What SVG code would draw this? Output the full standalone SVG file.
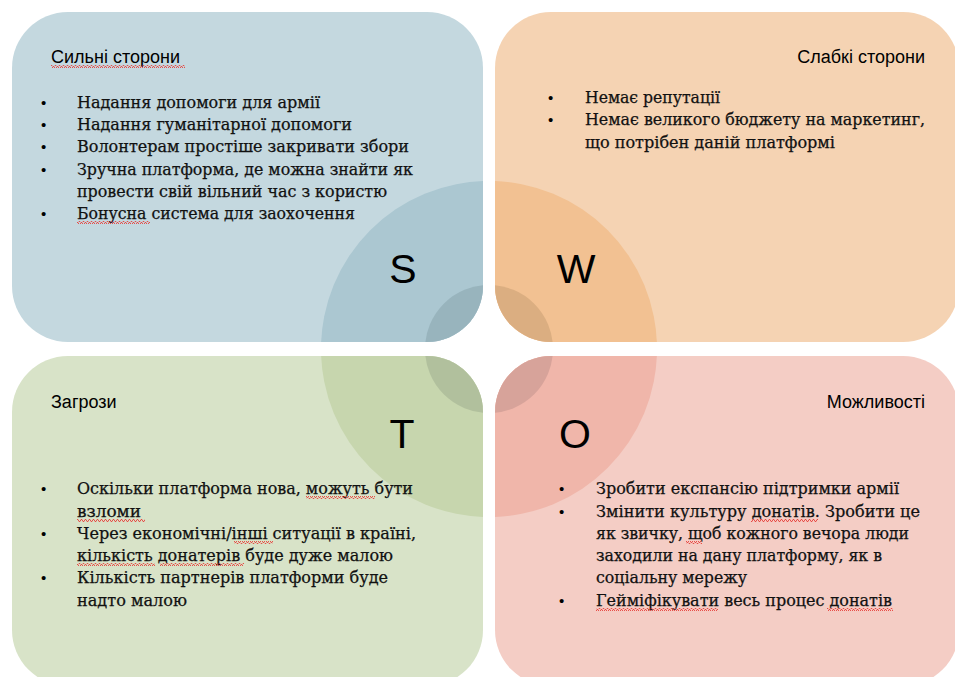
<svg xmlns="http://www.w3.org/2000/svg" width="955" height="677" viewBox="0 0 955 677">
<style>
.h{font-family:"Liberation Sans",Arial,sans-serif;font-size:18px;fill:#000}
.b{font-family:"DejaVu Serif Condensed","DejaVu Serif","Liberation Serif",serif;font-size:17px;fill:#111;stroke:#111;stroke-width:0.25}
.dot{font-family:"Liberation Sans",Arial,sans-serif;font-size:15px;fill:#000}
.big{font-family:"Liberation Sans",Arial,sans-serif;font-size:41px;fill:#000;text-anchor:middle}
.sq{fill:url(#wave)}
</style>
<defs>
<pattern id="wave" width="4" height="3" patternUnits="userSpaceOnUse">
<polyline points="0,2.5 1,0.5 2,0.5 3,2.5 4,2.5" fill="none" stroke="#e8413c" stroke-width="0.9"/>
</pattern>
<clipPath id="cS"><rect x="12" y="12" width="471" height="330" rx="56"/></clipPath>
<clipPath id="cW"><rect x="495" y="12" width="464" height="330" rx="56"/></clipPath>
<clipPath id="cT"><rect x="12" y="356" width="471" height="330" rx="56"/></clipPath>
<clipPath id="cO"><rect x="495" y="356" width="464" height="330" rx="56"/></clipPath>
</defs>
<rect width="955" height="677" fill="#fff"/>

<g id="strengths">
<rect x="12" y="12" width="471" height="330" rx="56" fill="#c4d8df"/>
<g clip-path="url(#cS)">
<circle cx="489" cy="349" r="168" fill="#abc7d1"/>
<circle cx="489" cy="349" r="64" fill="#98b4bd"/>
</g>
<text class="h" x="51" y="63">Сильні сторони</text>
<rect class="sq" x="51" y="65" width="134" height="3"/>
<text class="dot" x="41" y="108">•</text><text class="b" x="77" y="108" textLength="243" lengthAdjust="spacingAndGlyphs">Надання допомоги для армії</text>
<text class="dot" x="41" y="130">•</text><text class="b" x="77" y="130" textLength="275" lengthAdjust="spacingAndGlyphs">Надання гуманітарної допомоги</text>
<text class="dot" x="41" y="152">•</text><text class="b" x="77" y="152" textLength="332" lengthAdjust="spacingAndGlyphs">Волонтерам простіше закривати збори</text>
<text class="dot" x="41" y="175">•</text><text class="b" x="77" y="175" textLength="336" lengthAdjust="spacingAndGlyphs">Зручна платформа, де можна знайти як</text>
<text class="b" x="77" y="197" textLength="310" lengthAdjust="spacingAndGlyphs">провести свій вільний час з користю</text>
<text class="dot" x="41" y="219">•</text><text class="b" x="77" y="219" textLength="278" lengthAdjust="spacingAndGlyphs">Бонусна система для заохочення</text>
<rect class="sq" x="77" y="221" width="73" height="3"/>
<text class="big" x="403" y="283">S</text>
</g>

<g id="weaknesses">
<rect x="495" y="12" width="464" height="330" rx="56" fill="#f5d3b3"/>
<g clip-path="url(#cW)">
<circle cx="489" cy="349" r="168" fill="#f2c192"/>
<circle cx="489" cy="349" r="64" fill="#dbae81"/>
</g>
<text class="h" x="925" y="63" text-anchor="end">Слабкі сторони</text>
<text class="dot" x="548" y="103">•</text><text class="b" x="585" y="103" textLength="135" lengthAdjust="spacingAndGlyphs">Немає репутації</text>
<text class="dot" x="548" y="125">•</text><text class="b" x="585" y="125" textLength="340" lengthAdjust="spacingAndGlyphs">Немає великого бюджету на маркетинг,</text>
<text class="b" x="585" y="148" textLength="250" lengthAdjust="spacingAndGlyphs">що потрібен даній платформі</text>
<text class="big" x="576" y="283">W</text>
</g>

<g id="threats">
<rect x="12" y="356" width="471" height="330" rx="56" fill="#d8e3c8"/>
<g clip-path="url(#cT)">
<circle cx="489" cy="349" r="168" fill="#c7d6ae"/>
<circle cx="489" cy="349" r="64" fill="#b1c09d"/>
</g>
<text class="h" x="51" y="408">Загрози</text>
<text class="dot" x="41" y="494">•</text><text class="b" x="77" y="494" textLength="336" lengthAdjust="spacingAndGlyphs">Оскільки платформа нова, можуть бути</text>
<rect class="sq" x="306" y="496" width="69" height="3"/>
<text class="b" x="77" y="517" textLength="64" lengthAdjust="spacingAndGlyphs">взломи</text>
<rect class="sq" x="77" y="519" width="68" height="3"/>
<text class="dot" x="41" y="539">•</text><text class="b" x="77" y="539" textLength="339" lengthAdjust="spacingAndGlyphs">Через економічні/інші ситуації в країні,</text>
<rect class="sq" x="234" y="541" width="39" height="3"/>
<text class="b" x="77" y="561" textLength="316" lengthAdjust="spacingAndGlyphs">кількість донатерів буде дуже малою</text>
<rect class="sq" x="77" y="563" width="78" height="3"/>
<rect class="sq" x="160" y="563" width="84" height="3"/>
<text class="dot" x="41" y="583">•</text><text class="b" x="77" y="583" textLength="311" lengthAdjust="spacingAndGlyphs">Кількість партнерів платформи буде</text>
<text class="b" x="77" y="606" textLength="110" lengthAdjust="spacingAndGlyphs">надто малою</text>
<text class="big" x="402" y="448">T</text>
</g>

<g id="opportunities">
<rect x="495" y="356" width="464" height="330" rx="56" fill="#f4cdc5"/>
<g clip-path="url(#cO)">
<circle cx="489" cy="349" r="168" fill="#f0b6aa"/>
<circle cx="489" cy="349" r="64" fill="#d7a39a"/>
</g>
<text class="h" x="925" y="408" text-anchor="end">Можливості</text>
<text class="dot" x="559" y="494">•</text><text class="b" x="596" y="494" textLength="303" lengthAdjust="spacingAndGlyphs">Зробити експансію підтримки армії</text>
<text class="dot" x="559" y="517">•</text><text class="b" x="596" y="517" textLength="324" lengthAdjust="spacingAndGlyphs">Змінити культуру донатів. Зробити це</text>
<rect class="sq" x="751" y="519" width="67" height="3"/>
<text class="b" x="596" y="539" textLength="313" lengthAdjust="spacingAndGlyphs">як звичку, щоб кожного вечора люди</text>
<rect class="sq" x="686" y="541" width="16" height="3"/>
<text class="b" x="596" y="561" textLength="286" lengthAdjust="spacingAndGlyphs">заходили на дану платформу, як в</text>
<text class="b" x="596" y="583" textLength="151" lengthAdjust="spacingAndGlyphs">соціальну мережу</text>
<text class="dot" x="559" y="606">•</text><text class="b" x="596" y="606" textLength="296" lengthAdjust="spacingAndGlyphs">Гейміфікувати весь процес донатів</text>
<rect class="sq" x="596" y="608" width="122" height="3"/>
<rect class="sq" x="827" y="608" width="66" height="3"/>
<text class="big" x="575" y="448">O</text>
</g>
</svg>
